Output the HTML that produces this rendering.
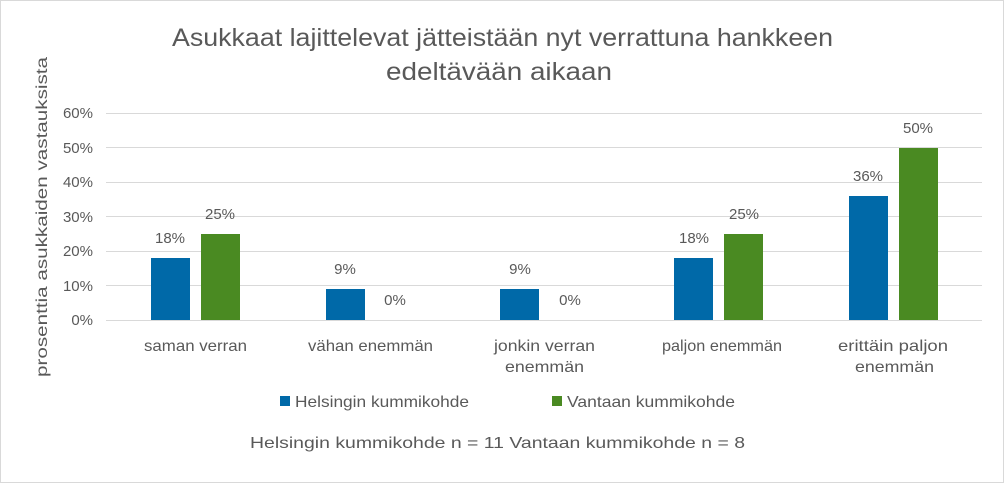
<!DOCTYPE html>
<html><head><meta charset="utf-8"><style>
html,body{margin:0;padding:0;background:#fff}
svg{display:block}
text{font-family:"Liberation Sans",sans-serif;fill:#595959}
</style></head><body>
<svg width="1004" height="483" viewBox="0 0 1004 483">
<rect x="0.5" y="0.5" width="1003" height="482" fill="#fff" stroke="#d9d9d9"/>
<text x="172" y="46" font-size="25" textLength="661" lengthAdjust="spacingAndGlyphs">Asukkaat lajittelevat jätteistään nyt verrattuna hankkeen</text>
<text x="386" y="80" font-size="25" textLength="226" lengthAdjust="spacingAndGlyphs">edeltävään aikaan</text>
<g stroke="#d9d9d9" stroke-width="1">
<line x1="106" x2="982" y1="113.5" y2="113.5"/>
<line x1="106" x2="982" y1="147.5" y2="147.5"/>
<line x1="106" x2="982" y1="182.5" y2="182.5"/>
<line x1="106" x2="982" y1="216.5" y2="216.5"/>
<line x1="106" x2="982" y1="251.5" y2="251.5"/>
<line x1="106" x2="982" y1="285.5" y2="285.5"/>
<line x1="106" x2="982" y1="320.5" y2="320.5"/>
</g>
<g font-size="15" text-anchor="end">
<text x="93" y="118">60%</text><text x="93" y="153">50%</text><text x="93" y="187">40%</text>
<text x="93" y="222">30%</text><text x="93" y="256">20%</text><text x="93" y="291">10%</text><text x="93" y="325">0%</text>
</g>
<text transform="translate(47,217) rotate(-90)" font-size="16" text-anchor="middle" textLength="320" lengthAdjust="spacingAndGlyphs">prosenttia asukkaiden vastauksista</text>
<g fill="#0069a8">
<rect x="151" y="258" width="39" height="62"/>
<rect x="326" y="289" width="39" height="31"/>
<rect x="500" y="289" width="39" height="31"/>
<rect x="674" y="258" width="39" height="62"/>
<rect x="849" y="196" width="39" height="124"/>
</g>
<g fill="#4a8a22">
<rect x="201" y="234" width="39" height="86"/>
<rect x="724" y="234" width="39" height="86"/>
<rect x="899" y="148" width="39" height="172"/>
</g>
<g font-size="15" text-anchor="middle">
<text x="170" y="243">18%</text><text x="220" y="219">25%</text>
<text x="345" y="274">9%</text><text x="395" y="305">0%</text>
<text x="520" y="274">9%</text><text x="570" y="305">0%</text>
<text x="694" y="243">18%</text><text x="744" y="219">25%</text>
<text x="868" y="181">36%</text><text x="918" y="133">50%</text>
</g>
<g font-size="16">
<text x="144" y="351" textLength="103" lengthAdjust="spacingAndGlyphs">saman verran</text>
<text x="308" y="351" textLength="125" lengthAdjust="spacingAndGlyphs">vähan enemmän</text>
<text x="494" y="351" textLength="101" lengthAdjust="spacingAndGlyphs">jonkin verran</text>
<text x="505" y="372" textLength="79" lengthAdjust="spacingAndGlyphs">enemmän</text>
<text x="662" y="351" textLength="120" lengthAdjust="spacingAndGlyphs">paljon enemmän</text>
<text x="838" y="351" textLength="110" lengthAdjust="spacingAndGlyphs">erittäin paljon</text>
<text x="855" y="372" textLength="79" lengthAdjust="spacingAndGlyphs">enemmän</text>
</g>
<rect x="280" y="396" width="10" height="10" fill="#0069a8"/>
<text x="295" y="407" font-size="16" textLength="174" lengthAdjust="spacingAndGlyphs">Helsingin kummikohde</text>
<rect x="552" y="396" width="10" height="10" fill="#4a8a22"/>
<text x="567" y="407" font-size="16" textLength="168" lengthAdjust="spacingAndGlyphs">Vantaan kummikohde</text>
<text x="250" y="448" font-size="16" textLength="495" lengthAdjust="spacingAndGlyphs">Helsingin kummikohde n = 11 Vantaan kummikohde n = 8</text>
</svg>
</body></html>
